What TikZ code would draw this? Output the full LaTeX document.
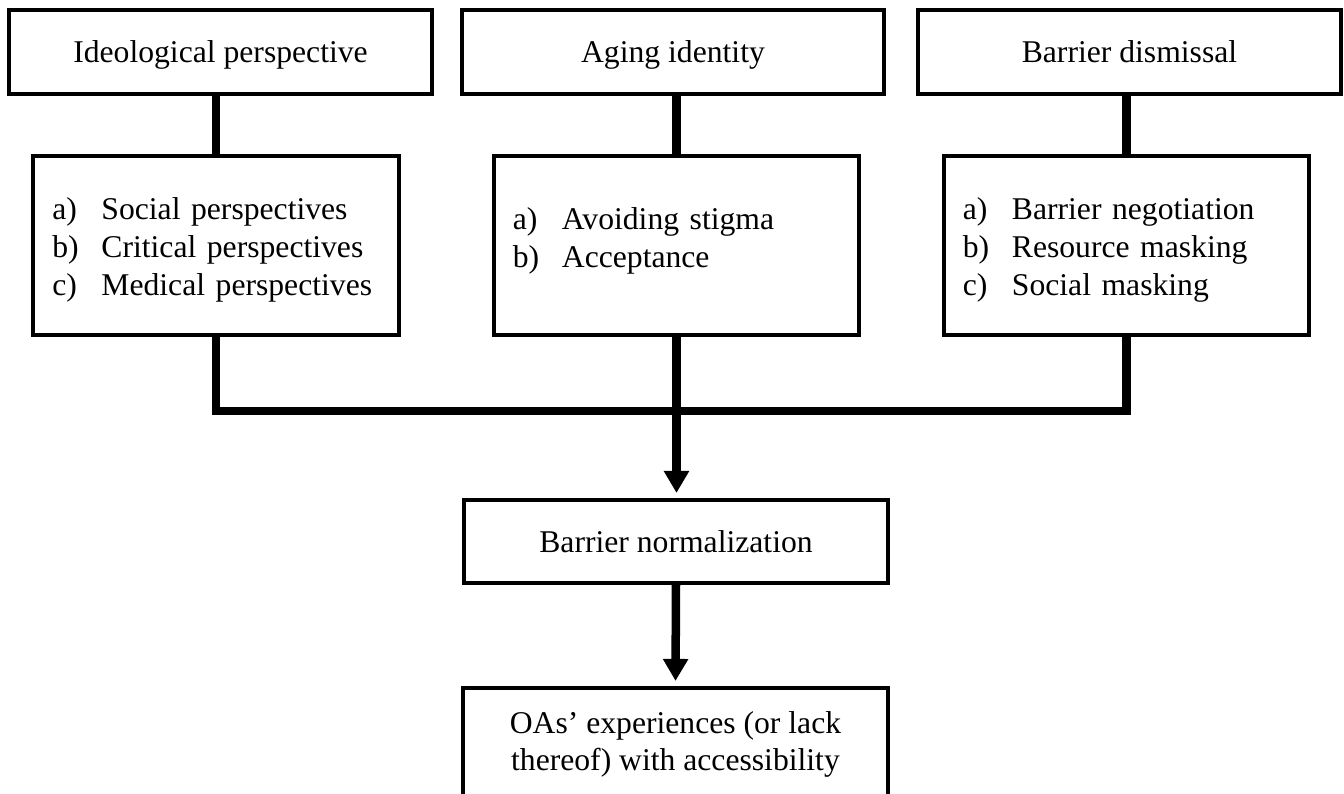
\documentclass[tikz,border=0pt]{standalone}
\usepackage{fontspec}
\setmainfont{Liberation Serif}
\usetikzlibrary{arrows.meta}
\newcommand{\itm}[1]{\makebox[0.49cm][l]{#1}}
\tikzstyle{topbox}=[draw,line width=0.04cm,minimum width=4.22cm,minimum height=0.84cm,inner sep=0pt,text height=0.28cm,text depth=0.07cm]
\tikzstyle{listbox}=[draw,line width=0.04cm,minimum height=1.79cm,text width=3.27cm,inner xsep=0.19cm,inner ysep=0pt,align=left]
\tikzstyle{flowbox}=[draw,line width=0.04cm,minimum width=4.24cm,inner sep=0pt,align=center]
\tikzstyle{link}=[draw,line width=0.085cm]
\tikzstyle{arrow}=[link,-{Triangle[width=0.24cm,length=0.22cm]},shorten >=0.05cm]

\begin{document}
\begin{tikzpicture}[x=0.01cm,y=-0.01cm,font=\fontsize{9}{10.8}\selectfont]
\useasboundingbox (0,0) rectangle (1344,794);
\clip (0,0) rectangle (1344,794);

   \def\rowA{52}
   \def\rowB{245.5}

%top row
    \foreach \pos/\name/\txt in {{(220.5,\rowA)/ideo/Ideological perspective}, {(673,\rowA)/age/Aging identity}, {(1129.5,\rowA)/bar/Barrier dismissal}}
        \node[topbox] (\name) at \pos {\txt};

%lists
    \foreach \pos/\name/\dep/\txt in {{(216,\rowB)/ideoL/0.73cm/{\itm{a)}Social perspectives\\\itm{b)}Critical perspectives\\\itm{c)}Medical perspectives}},
                                      {(676.5,\rowB)/ageL/0.53cm/{\itm{a)}Avoiding stigma\\\itm{b)}Acceptance}},
                                      {(1126.5,\rowB)/barL/0.73cm/{\itm{a)}Barrier negotiation\\\itm{b)}Resource masking\\\itm{c)}Social masking}}}
        \node[listbox,text depth=\dep] (\name) at \pos {\txt};

%bottom
    \node[flowbox,minimum height=0.83cm,text height=0.28cm,text depth=0.07cm] (norm) at (676,541.5) {Barrier normalization};
    \node[flowbox,minimum height=1.12cm,font=\fontsize{9}{10.5}\selectfont] (exp) at (675.5,744) {OAs’ experiences (or lack\\thereof) with accessibility};

    % connectors
    \foreach \source/\dest in {ideo/ideoL, age/ageL, bar/barL}
        \path[link] (\source.south -| \dest.north) -- (\dest.north);

    \coordinate (merge) at (676.5,411);
    \path[link] (ideoL.south) |- (merge) -| (barL.south);
    \draw[arrow] (ageL.south) -- (ageL.south |- norm.north);
    \draw[arrow] (norm.south) -- (exp.north);

\end{tikzpicture}
\end{document}
